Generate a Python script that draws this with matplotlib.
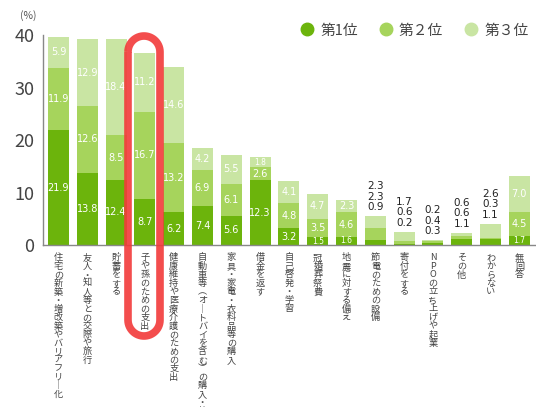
import numpy as np
import matplotlib
matplotlib.use("Agg")
import matplotlib.pyplot as plt
from matplotlib.path import Path
from matplotlib.patches import PathPatch

plt.rcParams['font.family'] = ['Noto Sans CJK JP', 'DejaVu Sans']

categories = [
    "住宅の新築・増改築やバリアフリー化",
    "友人・知人等との交際や旅行",
    "貯蓄をする",
    "子や孫のための支出",
    "健康維持や医療介護のための支出",
    "自動車等(オートバイを含む)の購入・整備",
    "家具・家電・衣料品等の購入",
    "借金を返す",
    "自己啓発・学習",
    "冠婚葬祭費",
    "地震に対する備え",
    "節電のための設備",
    "寄付をする",
    "NPOの立ち上げや起業",
    "その他",
    "わからない",
    "無回答",
]
rank1 = [21.9, 13.8, 12.4, 8.7, 6.2, 7.4, 5.6, 12.3, 3.2, 1.5, 1.6, 0.9, 0.2, 0.3, 1.1, 1.1, 1.7]
rank2 = [11.9, 12.6, 8.5, 16.7, 13.2, 6.9, 6.1, 2.6, 4.8, 3.5, 4.6, 2.3, 0.6, 0.4, 0.6, 0.3, 4.5]
rank3 = [5.9, 12.9, 18.4, 11.2, 14.6, 4.2, 5.5, 1.8, 4.1, 4.7, 2.3, 2.3, 1.7, 0.2, 0.6, 2.6, 7.0]
series_names = ["第1位", "第２位", "第３位"]
colors = ["#6cb40c", "#a6d45c", "#c9e5a3"]
outside = [11, 12, 13, 14, 15]  # bars whose numbers sit above the bar

fig = plt.figure(figsize=(5.36, 4.07), dpi=100)
ax = fig.add_axes([0.080, 0.398, 0.918, 0.516])

x = np.arange(len(categories))
w = 0.73
bottom = np.zeros(len(categories))
for vals, col, name in zip([rank1, rank2, rank3], colors, series_names):
    vals = np.array(vals)
    ax.bar(x, vals, w, bottom=bottom, color=col, label=name, linewidth=0)
    for i, v in enumerate(vals):
        if i in outside:
            continue
        fs = 5.5 if v < 2 else 7
        ax.text(x[i], bottom[i] + v / 2, f"{v:.1f}", ha="center", va="center",
                color="white", fontsize=fs, family="DejaVu Sans")
    bottom += vals

for i in outside:
    txt = f"{rank3[i]:.1f}\n{rank2[i]:.1f}\n{rank1[i]:.1f}"
    ax.annotate(txt, (x[i], bottom[i]), xytext=(0, 3), textcoords="offset points",
                ha="center", va="bottom", fontsize=7.5, color="#222222",
                linespacing=1.05, family="DejaVu Sans")

ax.set_xlim(-0.54, len(categories) - 0.46)
ax.set_ylim(0, 40)
ax.set_yticks([0, 10, 20, 30, 40])
ax.tick_params(axis="y", length=0, labelsize=13, labelcolor="#444444", pad=6)
ax.set_xticks([])
for s in ["top", "right"]:
    ax.spines[s].set_visible(False)
for s in ["left", "bottom"]:
    ax.spines[s].set_color("#888888")
    ax.spines[s].set_linewidth(1)

# vertical (tategaki) category labels
vmap = {"ー": "｜", "(": "︵", ")": "︶"}
for i, c in enumerate(categories):
    col = "\n".join(vmap.get(ch, ch) for ch in c)
    ax.text(x[i], -1.6, col, ha="center", va="top", fontsize=6.6,
            color="#444444", linespacing=0.93)

fig.text(0.037, 0.962, "(%)", fontsize=7.5, color="#555555", ha="left", va="center")

handles = [plt.Line2D([], [], marker="o", ls="", markersize=9, color=c) for c in colors]
fig.legend(handles, series_names, loc="center right", bbox_to_anchor=(1.0, 0.925),
           borderaxespad=0.1, ncol=3, frameon=False, fontsize=10.6, handlelength=1.0,
           handletextpad=0.4, columnspacing=1.4, labelcolor="#444444")

# red hand-drawn loop around 4th bar (pixel coords -> inches)
xl, xr, yt, yb = 128, 160, 36, 336
r = (xr - xl) / 2
cx = (xl + xr) / 2
t1 = np.linspace(np.pi, 0, 30)
t2 = np.linspace(0, -np.pi, 30)
top_arc = np.c_[cx + r * np.cos(t1), yt + r - r * np.sin(t1)]
bot_arc = np.c_[cx + r * np.cos(t2), yb - r - r * np.sin(t2)]
pts = np.vstack([top_arc, bot_arc, top_arc[:1]])
pts_in = np.c_[pts[:, 0] / 100, (407 - pts[:, 1]) / 100]
loop = PathPatch(Path(pts_in), transform=fig.dpi_scale_trans, fill=False,
                 edgecolor="#f23a3a", linewidth=5.5, alpha=0.9, zorder=10)
fig.add_artist(loop)

fig.savefig("out.png", dpi=100)
